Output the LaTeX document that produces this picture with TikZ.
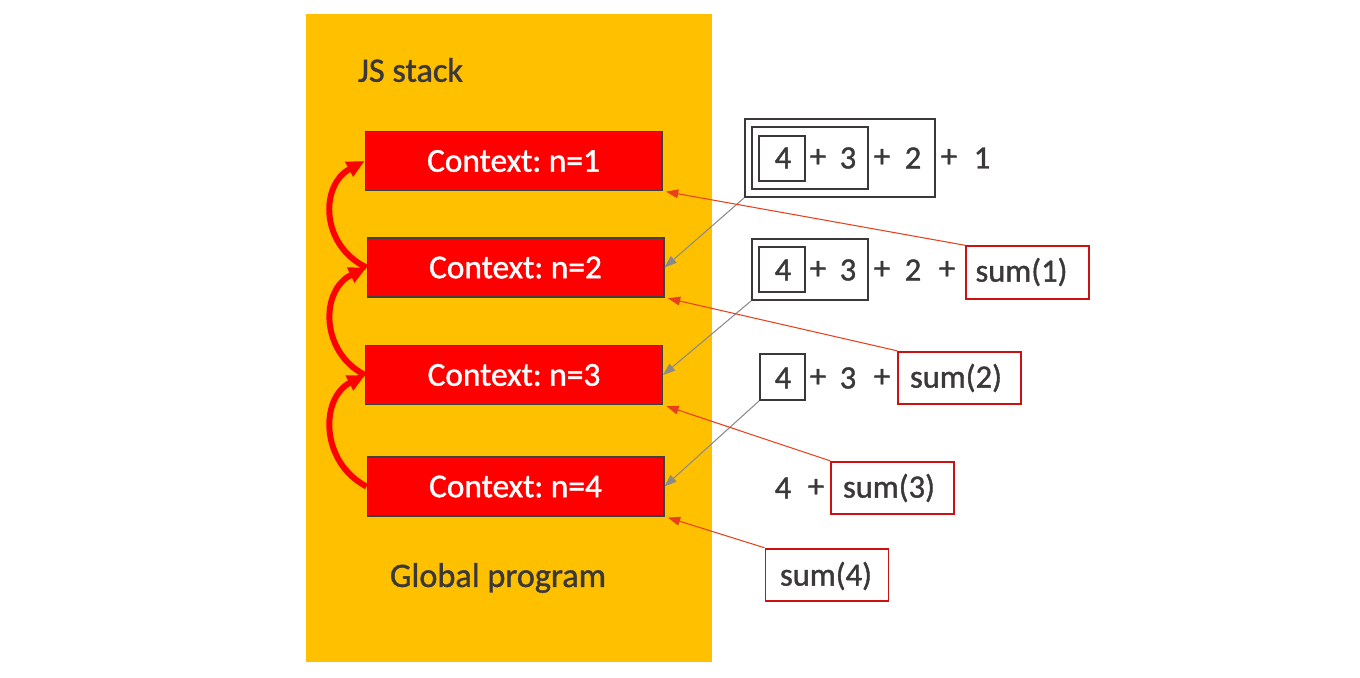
\documentclass[tikz,border=0pt]{standalone}
\usepackage{fontspec}
\setmainfont{Carlito}[FakeBold=1.2]
\frenchspacing
\usetikzlibrary{arrows.meta,calc}
\definecolor{stackbg}{HTML}{FFC000}
\definecolor{ctxred}{HTML}{FF0000}
\definecolor{txtgray}{HTML}{3A3838}
\definecolor{boxred}{HTML}{CC1111}
\definecolor{linered}{HTML}{E8401C}
\definecolor{linegray}{HTML}{8C8A88}
\begin{document}
\begin{tikzpicture}[x=0.02cm,y=-0.02cm,
  every node/.style={font=\fontsize{19}{23}\selectfont},
  ctx/.style={draw=black!75,line width=0.6pt,fill=ctxred,text=white,minimum width=5.94cm,minimum height=1.18cm,inner sep=0pt},
  lbl/.style={text=txtgray,inner sep=0pt,font=\fontsize{19.5}{23}\selectfont},
  tok/.style={text=txtgray,inner sep=0pt,font=\fontsize{18.5}{22}\selectfont},
  dbox/.style={draw=txtgray,line width=1.1pt,inner sep=0pt},
  sbox/.style={draw=boxred,line width=1.1pt,inner sep=0pt,minimum width=2.46cm,minimum height=1.05cm},
  backarrow/.style={draw=ctxred,line width=3.4pt,-{Triangle[length=10pt,width=9pt]}},
  grayarrow/.style={draw=linegray,line width=0.6pt,-{Triangle[length=7pt,width=5pt]}},
  redarrow/.style={draw=linered,line width=0.6pt,-{Triangle[length=7pt,width=5pt]},shorten >=2pt}
]
\useasboundingbox (0,0) rectangle (1360,678);
\fill[stackbg] (306,14) rectangle (712,662);

\node[lbl] (js) at (410.5,70) {JS stack};
\node[lbl] (gp) at (498,578) {Global program};

\node[ctx] (c1) at (513.5,161) {Context: n=1};
\node[ctx] (c2) at (515.5,267.5) {Context: n=2};
\node[ctx] (c3) at (514,375) {Context: n=3};
\node[ctx] (c4) at (515.5,486.5) {Context: n=4};

% return arrows
\draw[backarrow] (c2.west) .. controls (320,245) and (320,185) .. (c1.west);
\draw[backarrow] (c3.west) .. controls (320,352) and (320,290) .. (c2.west);
\draw[backarrow] (c4.west) .. controls (320,462) and (320,398) .. (c3.west);

% row 1
\node[dbox,minimum width=3.8cm,minimum height=1.56cm] (b1o) at (840,158) {};
\node[dbox,minimum width=2.32cm,minimum height=1.24cm] (b1m) at (810,158) {};
\node[dbox,minimum width=0.92cm,minimum height=0.9cm] (b1i) at (782,158.5) {};
\node[tok] (r1a) at (783,158) {4};
\node[tok] (r1b) at (818,158) {+};
\node[tok] (r1c) at (848,158) {3};
\node[tok] (r1d) at (882,158) {+};
\node[tok] (r1e) at (913,158) {2};
\node[tok] (r1f) at (949,158) {+};
\node[tok] (r1g) at (982,158) {1};

% row 2
\node[dbox,minimum width=2.32cm,minimum height=1.22cm] (b2m) at (810,269.5) {};
\node[dbox,minimum width=0.92cm,minimum height=0.9cm] (b2i) at (782,269.5) {};
\node[tok] (r2a) at (783,270) {4};
\node[tok] (r2b) at (818,270) {+};
\node[tok] (r2c) at (848,270) {3};
\node[tok] (r2d) at (882,270) {+};
\node[tok] (r2e) at (913,270) {2};
\node[tok] (r2f) at (947,270) {+};
\node[sbox] (s1) at (1027.5,272.5) {};
\node[tok] (s1t) at (1021.5,272) {sum(1)};

% row 3
\node[dbox,minimum width=0.9cm,minimum height=0.92cm] (b3i) at (782.5,377) {};
\node[tok] (r3a) at (783,378) {4};
\node[tok] (r3b) at (818,378) {+};
\node[tok] (r3c) at (848,378) {3};
\node[tok] (r3d) at (882,378) {+};
\node[sbox] (s2) at (959.5,378) {};
\node[tok] (s2t) at (956,378) {sum(2)};

% row 4
\node[tok] (r4a) at (783,488) {4};
\node[tok] (r4b) at (816,488) {+};
\node[sbox] (s3) at (892.5,488) {};
\node[tok] (s3t) at (889,488) {sum(3)};

% row 5
\node[sbox] (s4) at (827,575) {};
\node[tok] (s4t) at (826,576) {sum(4)};

% connectors
\draw[grayarrow] (b1o.south west) -- (c2.east);
\draw[grayarrow] (b2m.south west) -- (c3.east);
\draw[grayarrow] (b3i.south west) -- (c4.east);

\draw[redarrow] (s1.north west) -- (c1.south east);
\draw[redarrow] (s2.north west) -- (c2.south east);
\draw[redarrow] (s3.north west) -- (c3.south east);
\draw[redarrow] (s4.north west) -- (c4.south east);
\end{tikzpicture}
\end{document}
